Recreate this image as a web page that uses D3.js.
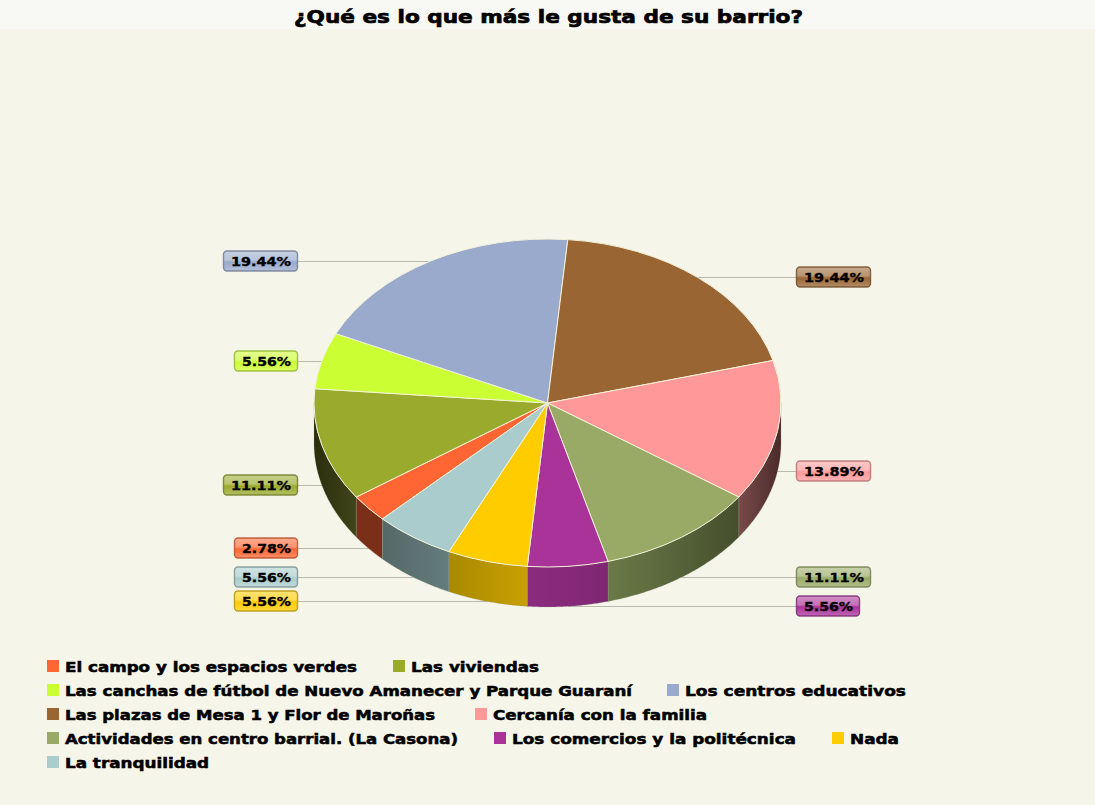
<!DOCTYPE html>
<html><head><meta charset="utf-8">
<script src="https://cdn.jsdelivr.net/npm/d3@7/dist/d3.min.js"></script>
<style>html,body{margin:0;padding:0;background:#f5f5e9}svg{display:block}
text{font-family:"DejaVu Sans";font-weight:bold;fill:#000}</style></head>
<body><svg id="c" width="1095" height="805"></svg>
<script>
const title = "¿Qué es lo que más le gusta de su barrio?";
const categories = ["El campo y los espacios verdes","Las viviendas","Las canchas de fútbol de Nuevo Amanecer y Parque Guaraní","Los centros educativos","Las plazas de Mesa 1 y Flor de Maroñas","Cercanía con la familia","Actividades en centro barrial. (La Casona)","Los comercios y la politécnica","Nada","La tranquilidad"];
const values = [2.78,11.11,5.56,19.44,19.44,13.89,11.11,5.56,5.56,5.56];
const colors = ["#ff6633","#99aa2d","#ccff33","#99aacc","#996633","#ff9999","#99aa66","#aa3399","#ffcc00","#aacccc"];
const sideRight = ["#7a3018","#40451a","#52661a","#4d5566","#4d331a","#4a2a2a","#454f2c","#7f2773","#c8a000","#647c7c"];
const sideLeft  = ["#7a3018","#2a2e0c","#52661a","#4d5566","#4d331a","#7a4a4a","#6b7a48","#8c2b7e","#a88a00","#566868"];

const svg = d3.select("#c");
const W=1095,H=805,cx=547.5,cy=403,rx=233.5,ry=164,depth=40;
svg.append("rect").attr("width",W).attr("height",H).attr("fill","#f5f5e9");
svg.append("rect").attr("width",W).attr("height",29).attr("fill","#f8f8f4");
svg.append("text").attr("x",294).attr("y",23).attr("font-size",18.5).attr("textLength",509).attr("lengthAdjust","spacingAndGlyphs").attr("stroke","#000").attr("stroke-width",.7).text(title);

const defs = svg.append("defs");
const pie = d3.pie().sort(null).value(d=>d).startAngle(225*Math.PI/180).endAngle(585*Math.PI/180);
const arcs = pie(values);
const ex = a=>cx+rx*Math.sin(a), ey = a=>cy-ry*Math.cos(a);
const TAU=2*Math.PI;

// label leader lines + tags
const labelFill = (c,t)=>d3.interpolateRgb(c,"#fff")(t);
const tags = svg.append("g");
arcs.forEach((d,i)=>{
  const m=(d.startAngle+d.endAngle)/2, s=Math.sin(m), c=Math.cos(m);
  const front = c<0;
  const px=ex(m), py=ey(m)+(front?depth:0);
  const right = s>0;
  const txt = d3.format(".2f")(values[i])+"%";
  const w = values[i]>=10?75:64;
  const x0 = right?796:298-w;
  const yy=Math.round(py);
  tags.append("line").attr("x1",right?x0:x0+w).attr("x2",px).attr("y1",yy+.5).attr("y2",yy+.5).attr("stroke","#b9b9b0").attr("stroke-width",1);
  const g=defs.append("linearGradient").attr("id","t"+i).attr("x1",0).attr("x2",0).attr("y1",0).attr("y2",1);
  g.append("stop").attr("offset",0).attr("stop-color",labelFill(colors[i],.45));
  g.append("stop").attr("offset",.45).attr("stop-color",labelFill(colors[i],.3));
  g.append("stop").attr("offset",.55).attr("stop-color",colors[i]);
  g.append("stop").attr("offset",1).attr("stop-color",labelFill(colors[i],.25));
  tags.append("rect").attr("x",x0+.5).attr("y",yy-10).attr("width",w-1).attr("height",20).attr("rx",3.5)
    .attr("fill",`url(#t${i})`).attr("stroke",d3.color(colors[i]).darker(1)).attr("stroke-opacity",.8).attr("stroke-width",1.4);
  tags.append("text").attr("x",x0+8).attr("y",yy+5).attr("font-size",13).attr("stroke","#000").attr("stroke-width",.4)
    .attr("textLength",w-15).attr("lengthAdjust","spacingAndGlyphs").text(txt);
});

// sides (front half of the rim only)
const face = svg.append("g");
arcs.forEach((d,i)=>{
  const off = d.startAngle>=TAU ? TAU : 0;
  let a0=Math.max(d.startAngle-off,Math.PI/2), a1=Math.min(d.endAngle-off,3*Math.PI/2);
  if(a1<=a0) return;
  const n=60, pts=d3.range(n+1).map(k=>a0+(a1-a0)*k/n);
  const area=d3.area().x(a=>ex(a)).y0(a=>ey(a)).y1(a=>ey(a)+depth);
  const g=defs.append("linearGradient").attr("id","s"+i).attr("gradientUnits","userSpaceOnUse").attr("x1",ex(a0)).attr("x2",ex(a1)).attr("y1",0).attr("y2",0);
  g.append("stop").attr("offset",0).attr("stop-color",sideRight[i]);
  g.append("stop").attr("offset",1).attr("stop-color",sideLeft[i]);
  face.append("path").attr("d",area(pts)).attr("fill",`url(#s${i})`).attr("stroke","#9a9a90").attr("stroke-width",.4).attr("stroke-opacity",.6);
});

// top faces
const arc=d3.arc().innerRadius(0).outerRadius(rx);
const topFace=svg.append("g").attr("transform",`translate(${cx},${cy}) scale(1,${ry/rx})`);
topFace.selectAll("path").data(arcs).join("path").attr("d",arc).attr("fill",(d,i)=>colors[i])
  .attr("stroke","#f3f1d8").attr("stroke-width",1).attr("vector-effect","non-scaling-stroke");

// legend
const legendRows=[[0,1],[2,3],[4,5],[6,7,8],[9]];
const legendStarts=[[47,393],[47,667],[47,475],[47,494,832],[47]];
const legendWidths=[292,128,567,221,370,214,393,284,49,144];
const leg=svg.append("g");
legendRows.forEach((row,r)=>{
  const y=666+24*r;
  row.forEach((i,k)=>{
    const x=legendStarts[r][k];
    leg.append("rect").attr("x",x).attr("y",y-6).attr("width",12).attr("height",12).attr("fill",colors[i]);
    leg.append("text").attr("x",x+18).attr("y",y+5.5).attr("font-size",14.5).attr("stroke","#000").attr("stroke-width",.55)
      .attr("textLength",legendWidths[i]).attr("lengthAdjust","spacingAndGlyphs").text(categories[i]);
  });
});
</script></body></html>
